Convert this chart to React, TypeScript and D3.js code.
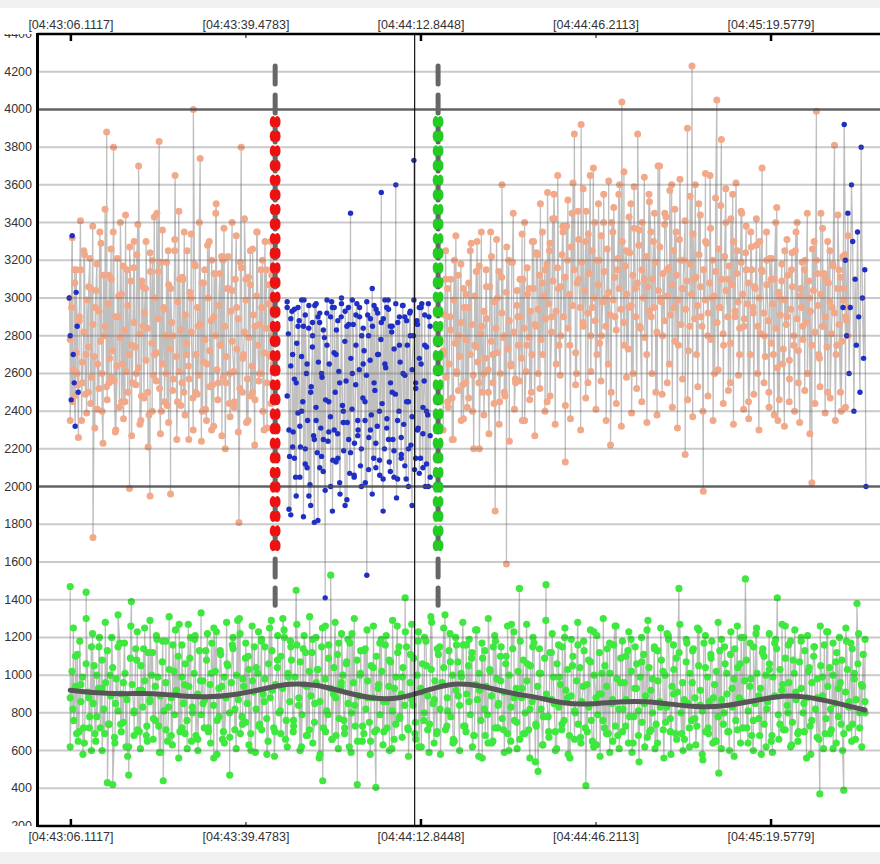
import React from 'react';
import * as d3 from 'd3';

// seconds after 04:43:00
const tickTimes = [6.1117, 39.4783, 72.8448, 106.2113, 139.5779];
const tickLabels = ['[04:43:06.1117]', '[04:43:39.4783]', '[04:44:12.8448]', '[04:44:46.2113]', '[04:45:19.5779]'];
const majorTick = [true, false, true, false, true];
const yTicks = [200, 400, 600, 800, 1000, 1200, 1400, 1600, 1800, 2000, 2200, 2400, 2600, 2800, 3000, 3200, 3400, 3600, 3800, 4000, 4200, 4400];
const yMajor = [2000, 4000];

const salmonLeftSpan = [5.98, 44.67];
const salmonLeft = [
  3000, 2450, 3150, 2600, 2900, 2350, 3250, 2700, 2500, 3050,
  1730, 2950, 2650, 3350, 2400, 2800, 3880, 2550, 3100, 3800,
  2300, 2900, 3400, 2650, 2450, 3150, 1990, 2750, 3300, 2600,
  3700, 2350, 2850, 3050, 2500, 1950, 3200, 2700, 3450, 3830,
  2400, 2950, 2600, 3250, 1960, 2800, 3650, 2450, 3100, 2550,
  3350, 2700, 2250, 3000, 4000, 2500, 2850, 3740, 2400, 3150,
  2650, 3300, 2300, 2900, 3500, 2550, 2750, 3200, 2200, 3050,
  2600, 3400, 2450, 2950, 1810, 3800, 2700, 3100, 2350, 3250,
  2500, 2850, 3350, 2600, 2950, 2300, 3150, 2700, 3300, 2650,
];
const salmonLeftCore = [
  2780, 2950, 2620, 3080, 2710, 2540, 2880, 3150, 2660, 2820,
  2490, 2990, 2740, 3210, 2580, 2860, 2690, 3040, 2410, 2930,
  2770, 2600, 3120, 2850, 2530, 2970, 2680, 3260, 2720, 2560,
  2900, 2640, 3010, 2790, 2450, 3170, 2830, 2610, 2960, 2700,
  3090, 2550, 2870, 2740, 3230, 2630, 2810, 2480, 3060, 2920,
  2670, 2840, 2380, 3140, 2760, 2590, 3000, 2710, 2890, 2520,
  3190, 2650, 2940, 2800, 2430, 3070, 2730, 2870, 2570, 3250,
  2690, 2980, 2610, 2830, 3110, 2500, 2910, 2760, 2640, 3030,
  2820, 2470, 3180, 2700, 2950, 2590, 2860, 3080, 2660, 2780,
  2350, 3000, 2720, 2880, 2540, 3130, 2800, 2620, 2960, 2750,
  3220, 2580, 2850, 2690, 3050, 2440, 2930, 2770, 2610, 3100,
  2730, 2890, 2520, 3160, 2680, 2820, 2990, 2570, 2790, 3070,
  2640, 2910, 2460, 3010, 2750, 2860, 2600, 3200, 2710, 2840,
  2550, 2970, 2690, 3120, 2800,
];
const salmonLeftWide = [
  2350, 3320, 2480, 3150, 2260, 3410, 2550, 3230, 2390, 3060,
  2440, 3380, 2310, 3180, 2520, 3290, 2230, 3470, 2460, 3120,
  2580, 3350, 2290, 3210, 2420, 3020, 2360, 3440, 2500, 3270,
  2270, 3160, 2540, 3390, 2330, 3090, 2470, 3300, 2210, 3240,
  2400, 3430, 2560, 3140, 2280, 3360, 2450, 3190, 2340, 3050,
  2510, 3310, 2250, 3460, 2430, 3100, 2380, 3250, 2570, 3340,
  2300, 3170, 2490, 3400, 2240, 3080, 2410, 3280, 2530, 3200,
  2320, 3450, 2460, 3130, 2270, 3370, 2550, 3220, 2370, 3040,
  2420, 3330, 2290, 3190, 2500, 3420, 2340, 3110, 2480, 3260,
  2220, 3350, 2560, 3150, 2400, 3300, 2310, 3070, 2440, 3230,
];

const salmonRightSpan = [77.07, 154.26];
const salmonRight = [
  2700, 3100, 2450, 2900, 2250, 3200, 2600, 2800, 2350, 3050,
  2550, 2950, 3250, 2400, 2750, 3300, 2200, 2850, 2600, 3150,
  2500, 3350, 2700, 1870, 3000, 2450, 3600, 2800, 1590, 3200,
  2650, 3450, 2550, 2900, 3100, 2350, 3400, 2750, 3050, 2500,
  3300, 2850, 2600, 3500, 2700, 3150, 2450, 3250, 2900, 3550,
  2650, 3050, 2800, 3350, 2130, 3200, 2750, 3450, 3870, 2600,
  3100, 3920, 2850, 3300, 2550, 3650, 2950, 3400, 2700, 3200,
  2800, 3550, 3000, 2650, 2220, 3350, 2900, 3150, 3600, 4040,
  2750, 3250, 2950, 3500, 2600, 3050, 3870, 2850, 3400, 3100,
  2700, 3550, 2900, 3300, 2500, 3700, 3000, 2800, 3450, 3150,
  2650, 3600, 2950, 3350, 2750, 3200, 3050, 2170, 3900, 2850,
  4230, 3100, 2700, 3500, 2900, 1975, 3300, 2800, 3650, 3000,
  2600, 4050, 2950, 3840, 2750, 3400, 3100, 2550, 3550, 2900,
  3250, 2700, 3450, 2850, 3150, 2450, 3350, 2950, 3050, 2600,
  3300, 3690, 2800, 3200, 2500, 3100, 2700, 3400, 2350, 3000,
  2650, 3250, 2900, 2450, 3150, 2750, 3350, 2550, 3050, 2850,
  3200, 2600, 3000, 2020, 3300, 3990, 2700, 3450, 2850, 3100,
  2500, 3250, 2950, 3810, 2750, 3150, 2400, 3050, 2900, 2800,
];
const salmonRightCore = [
  2720, 2910, 2580, 3050, 2650, 2830, 2470, 2990, 2760, 2610,
  3120, 2690, 2870, 2540, 2950, 2780, 2420, 3080, 2700, 2860,
  2590, 3010, 2740, 2660, 3170, 2810, 2500, 2930, 2680, 2890,
  2620, 3060, 2770, 2550, 2980, 2840, 2710, 3140, 2600, 2920,
  2790, 2480, 3030, 2730, 2880, 2640, 3190, 2820, 2570, 2960,
  2750, 2900, 2680, 3100, 2840, 2610, 3020, 2790, 2930, 2700,
  3050, 2860, 3240, 2940, 3120, 2780, 3350, 3010, 2890, 3180,
  2970, 3290, 2820, 3090, 3420, 2930, 3160, 2750, 3060, 3230,
  2900, 3110, 3380, 2840, 3020, 3270, 2960, 3150, 2710, 3080,
  3310, 2950, 3190, 2870, 3040, 3460, 2920, 3130, 2800, 3250,
  3000, 2880, 3200, 3070, 2760, 3330, 2980, 3140, 2850, 3260,
  3030, 2910, 3400, 2990, 3110, 2830, 3210, 3050, 2940, 3300,
  2870, 3170, 3020, 2730, 3240, 2960, 3120, 3370, 2900, 3080,
  3280, 2840, 3150, 3000, 2790, 3220, 3060, 2930, 3350, 3100,
  2950, 3190, 2820, 3040, 3270, 2980, 3130, 2880, 3430, 3010,
  3160, 2910, 3070, 3250, 2770, 3120, 2990, 3310, 2860, 3050,
  3200, 2940, 3090, 2720, 3180, 3020, 3340, 2890, 3110, 2960,
  3230, 3060, 2850, 3150, 2990, 3290, 2920, 3080, 2780, 3200,
  3010, 3140, 2870, 3260, 2950, 3100, 2810, 3220, 3040, 2900,
  3170, 2760, 3070, 3300, 2930, 3130, 2980, 2840, 3190, 3020,
  2890, 3240, 2970, 3080, 2700, 3150, 2920, 3060, 3280, 2850,
  3000, 2810, 3140, 2920, 2690, 3070, 2880, 3210, 2760, 2970,
  3100, 2840, 2630, 3030, 2910, 3180, 2730, 2990, 2860, 3120,
  2670, 2940, 3060, 2800, 3250, 2890, 2720, 3010, 2950, 2780,
  3150, 2870, 2600, 3090, 2930, 2750, 3040, 2820, 3200, 2960,
  2680, 3020, 2850, 3130, 2900, 2740, 3080, 2980, 2810, 3170,
  2920, 2700, 3050, 2860, 3110, 2770, 2990, 3230, 2880, 2950,
];
const salmonRightWide = [
  2300, 3250, 2420, 3100, 2250, 3330, 2510, 3180, 2360, 3020,
  2470, 3290, 2200, 3140, 2550, 3350, 2380, 3060, 2280, 3220,
  2440, 3310, 2330, 3110, 2500, 3270, 2240, 3190, 2410, 3040,
  2560, 3340, 2350, 3160, 2460, 3300, 2270, 3230, 2520, 3080,
  2400, 3560, 2480, 3420, 2330, 3650, 2590, 3380, 2430, 3520,
  2360, 3610, 2540, 3460, 2300, 3580, 2470, 3340, 2610, 3690,
  2410, 3500, 2560, 3400, 2350, 3620, 2500, 3480, 2440, 3550,
  2320, 3670, 2580, 3430, 2390, 3590, 2520, 3360, 2450, 3640,
  2340, 3510, 2600, 3450, 2380, 3700, 2490, 3390, 2550, 3570,
  2420, 3470, 2310, 3630, 2570, 3410, 2460, 3540, 2370, 3600,
  2530, 3440, 2400, 3660, 2480, 3370, 2350, 3530, 2620, 3490,
  2440, 3580, 2510, 3420, 2330, 3610, 2590, 3460, 2410, 3380,
  2360, 3270, 2490, 3420, 2300, 3150, 2550, 3350, 2420, 3210,
  2380, 3480, 2460, 3090, 2320, 3310, 2570, 3240, 2400, 3400,
  2340, 3190, 2510, 3450, 2280, 3260, 2440, 3130, 2530, 3370,
  2390, 3300, 2470, 3180, 2350, 3440, 2500, 3220, 2420, 3330,
];

const blueStartSpan = [5.79, 7.5];
const blueStart = [3000, 2800, 2460, 3330, 2700, 2550, 2320, 3030, 2850, 2500];

const blueMidSpan = [47.34, 74.6];
const blueMid = [
  2950, 2300, 1850, 2700, 2150, 2550, 2950, 2050, 2400, 2850,
  2200, 2650, 1950, 2500, 2800, 1810, 2350, 2900, 2100, 2600,
  2250, 1410, 2750, 2450, 2000, 2950, 2300, 2700, 2150, 2550,
  3000, 2400, 1900, 2850, 2250, 3450, 2600, 2050, 2750, 2350,
  2900, 2200, 2650, 2450, 1530, 2800, 2300, 3050, 2550, 2100,
  2700, 2400, 3560, 1870, 2650, 2950, 2250, 2850, 2500, 2050,
  3600, 2350, 2750, 2150, 2600, 2900, 2450, 2200, 2800, 1900,
  3730, 2550, 2300, 2950, 2650, 2100, 2750, 2400, 2000, 2850,
];
const blueMidCore = [
  2480, 2810, 2160, 2640, 2930, 2290, 2570, 2050, 2760, 2390,
  2880, 2210, 2690, 2450, 2990, 2120, 2600, 2350, 2840, 2010,
  2530, 2740, 2270, 2960, 2420, 2180, 2660, 2870, 2310, 2580,
  2080, 2790, 2460, 2920, 2240, 2650, 2370, 2980, 2140, 2710,
  2500, 2830, 2280, 2610, 1960, 2900, 2430, 2190, 2770, 2560,
  2340, 2950, 2070, 2680, 2410, 2860, 2230, 2540, 2970, 2300,
  2620, 2110, 2800, 2470, 2720, 2020, 2590, 2910, 2260, 2670,
  2380, 2850, 2150, 2510, 2940, 2320, 2700, 2060, 2780, 2440,
  2890, 2200, 2630, 2360, 2990, 2130, 2550, 2820, 2250, 2730,
  2490, 1940, 2870, 2400, 2660, 2170, 2960, 2330, 2590, 2040,
  2750, 2450, 2920, 2220, 2620, 2800, 2090, 2520, 2880, 2310,
  2680, 2150, 2970, 2420, 2560, 2000, 2740, 2380, 2900, 2270,
];
const blueMidWide = [
  2980, 1880, 2890, 2210, 2940, 1950, 2850, 2320, 2990, 1840,
  2910, 2100, 2960, 1900, 2870, 2250, 2970, 1820, 2920, 2160,
  2830, 1980, 2990, 2290, 2900, 1870, 2950, 2130, 2880, 2020,
  2970, 2340, 2930, 1930, 2860, 2180, 2990, 2060, 2910, 2270,
  2950, 2000, 2840, 2350, 2980, 2090, 2890, 1960, 2960, 2230,
  2920, 2140, 2870, 2040, 2990, 2310, 2940, 2080, 2850, 2190,
  2970, 2040, 2900, 2260, 2960, 2110, 2880, 2000, 2930, 2370,
  2990, 2150, 2860, 2070, 2950, 2280, 2910, 2120, 2970, 2050,
];

const blueEndSpan = [153.3, 157.68];
const blueEnd = [
  2950, 3920, 3200, 2800, 3450, 2600, 2950, 3600, 3300, 2400,
  3100, 2750, 3350, 2900, 2500, 3800, 3000, 2680, 3150, 2000,
];

const greenSpan = [5.98, 157.49];
const green = [
  1470, 820, 1100, 650, 950, 720, 1440, 880, 600, 1050,
  780, 1200, 930, 690, 430, 1000, 420, 850, 1150, 740,
  960, 620, 470, 1390, 810, 1080, 700, 920, 1250, 650,
  870, 1120, 760, 990, 590, 440, 1180, 830, 680, 1020,
  900, 1270, 720, 950, 610, 1090, 800, 1210, 660, 970,
  850, 1130, 700, 1010, 560, 1230, 780, 940, 640, 1060,
  470, 1160, 820, 1290, 690, 980, 750, 1100, 600, 910,
  1040, 730, 1190, 860, 580, 1250, 920, 700, 1080, 810,
  1300, 660, 990, 1150, 760, 1450, 880, 620, 1210, 940,
  710, 1120, 850, 1030, 580, 440, 1260, 790, 1530, 900,
  680, 1170, 960, 760, 1070, 620, 1220, 840, 420, 1000,
  730, 1140, 880, 650, 1040, 405, 950, 1190, 700, 860,
  1080, 610, 930, 1260, 780, 990, 1410, 720, 1110, 840,
  660, 1230, 910, 760, 1050, 590, 1280, 870, 700, 1150,
  950, 1320, 810, 1070, 640, 1200, 890, 1010, 730, 1160,
  860, 1090, 680, 1240, 920, 560, 1130, 790, 1020, 650,
  1180, 840, 970, 710, 1100, 600, 1270, 880, 750, 1460,
  930, 690, 1060, 820, 1150, 540, 490, 1010, 780, 1480,
  700, 1120, 850, 610, 990, 740, 1200, 880, 560, 1050,
  800, 1160, 670, 940, 414, 1080, 760, 1230, 630, 900,
  1010, 720, 1140, 590, 870, 1260, 680, 960, 820, 1100,
  640, 1190, 780, 930, 540, 1070, 850, 1240, 700, 980,
  610, 1130, 830, 1020, 750, 1210, 580, 900, 1090, 1460,
  690, 870, 1170, 620, 960, 770, 1250, 840, 550, 1040,
  720, 1110, 880, 650, 480, 1190, 800, 1010, 600, 930,
  1140, 710, 1060, 860, 1510, 640, 980, 760, 1220, 890,
  580, 1100, 820, 1030, 680, 1170, 1410, 740, 950, 1260,
  800, 620, 1080, 910, 700, 1200, 850, 560, 1040, 760,
  1150, 880, 370, 990, 690, 1230, 820, 610, 1070, 930,
  740, 390, 1180, 860, 650, 1010, 1380, 720, 940, 800,
];
const greenCore = [
  880, 1020, 760, 940, 1110, 700, 860, 990, 640, 1060,
  910, 780, 1150, 850, 690, 1000, 930, 720, 1080, 820,
  960, 1130, 740, 890, 1040, 670, 980, 810, 1170, 900,
  750, 1010, 870, 620, 1090, 950, 800, 1140, 710, 920,
  1050, 830, 970, 680, 1120, 860, 1000, 770, 940, 1190,
  730, 890, 1070, 810, 960, 650, 1030, 880, 1160, 790,
  920, 1100, 700, 990, 850, 1060, 760, 940, 1200, 830,
  1010, 680, 900, 1130, 790, 970, 870, 1080, 720, 950,
  1170, 840, 1020, 760, 930, 1110, 660, 990, 880, 1050,
  800, 960, 1140, 710, 1000, 870, 1220, 780, 940, 1090,
  850, 1030, 690, 970, 1150, 820, 1010, 740, 1180, 900,
  980, 770, 1060, 880, 1130, 720, 950, 1040, 800, 1100,
  930, 1200, 760, 1010, 860, 1080, 700, 990, 1160, 840,
  1070, 790, 950, 1120, 680, 1020, 890, 1190, 750, 960,
  1030, 860, 1150, 720, 980, 810, 1090, 930, 660, 1040,
  880, 1110, 770, 940, 1000, 690, 1060, 850, 1170, 800,
  960, 730, 1080, 890, 1010, 650, 1130, 820, 970, 750,
  1050, 880, 700, 1100, 930, 790, 1020, 860, 1160, 720,
  940, 1070, 810, 660, 990, 1120, 770, 900, 1040, 840,
  1150, 710, 960, 870, 1090, 750, 1000, 620, 930, 1060,
  800, 1180, 890, 740, 1030, 850, 970, 690, 1110, 820,
  960, 1040, 710, 880, 1130, 780, 1000, 650, 920, 1070,
  840, 990, 1160, 730, 900, 1050, 790, 1120, 680, 950,
  870, 1010, 760, 1090, 820, 940, 640, 1030, 890, 1150,
  720, 980, 850, 1100, 770, 910, 1060, 690, 1000, 830,
  1140, 760, 930, 1020, 660, 880, 1080, 800, 970, 710,
  1050, 860, 1170, 740, 940, 1010, 820, 630, 1090, 900,
  780, 1120, 870, 990, 700, 1060, 830, 950, 1150, 760,
  920, 1030, 680, 890, 1100, 810, 970, 740, 1040, 860,
  1180, 720, 950, 830, 1070, 650, 1000, 880, 790, 1120,
  900, 760, 1050, 940, 690, 1010, 850, 1160, 730, 980,
  820, 1090, 700, 960, 870, 1130, 780, 1020, 640, 930,
  1060, 810, 990, 750, 1110, 890, 670, 1040, 920, 800,
  1150, 740, 970, 860, 1080, 710, 1000, 830, 1190, 770,
  940, 1030, 690, 910, 1120, 800, 960, 660, 1070, 850,
  1010, 760, 1140, 880, 730, 1050, 920, 810, 1170, 700,
  990, 860, 1090, 640, 950, 1020, 780, 1130, 870, 740,
  1060, 900, 700, 1110, 830, 980, 760, 1040, 880, 1200,
  720, 970, 1080, 810, 940, 680, 1150, 850, 1010, 770,
  930, 1120, 740, 1000, 860, 1060, 650, 990, 890, 1140,
  790, 1030, 920, 710, 1090, 840, 960, 1180, 750, 1010,
  870, 690, 1070, 930, 800, 1130, 880, 1020, 730, 960,
  1100, 820, 980, 660, 1050, 890, 1160, 770, 940, 1040,
  710, 1000, 850, 1120, 780, 960, 1080, 690, 910, 1030,
  830, 1170, 740, 980, 870, 1060, 800, 950, 1110, 860,
];
const greenWide = [
  620, 1250, 690, 1180, 580, 1300, 720, 1220, 650, 1150,
  600, 1280, 740, 1200, 640, 1320, 700, 1170, 570, 1260,
  680, 1230, 610, 1140, 730, 1290, 660, 1210, 590, 1180,
  710, 1310, 630, 1240, 560, 1160, 690, 1270, 650, 1190,
  600, 1330, 720, 1220, 640, 1250, 580, 1130, 700, 1280,
  670, 1200, 610, 1300, 740, 1170, 630, 1260, 590, 1230,
  710, 1150, 650, 1290, 570, 1210, 690, 1240, 620, 1180,
  730, 1270, 600, 1140, 680, 1310, 640, 1200, 560, 1250,
  700, 1160, 660, 1280, 610, 1220, 720, 1190, 590, 1300,
  650, 1130, 690, 1240, 580, 1260, 710, 1170, 630, 1210,
  600, 1290, 740, 1150, 670, 1230, 570, 1270, 690, 1180,
  620, 1200, 710, 1310, 640, 1140, 580, 1250, 730, 1220,
  660, 1160, 600, 1280, 700, 1190, 620, 1240, 570, 1170,
  680, 1300, 640, 1210, 720, 1150, 590, 1260, 650, 1230,
  610, 1180, 690, 1270, 560, 1200, 730, 1140, 630, 1290,
  670, 1220, 600, 1160, 710, 1250, 580, 1190, 660, 1280,
  640, 1130, 700, 1240, 620, 1210, 570, 1300, 690, 1170,
  650, 1260, 610, 1180, 730, 1230, 590, 1150, 680, 1200,
  620, 1290, 710, 1140, 640, 1250, 560, 1220, 700, 1160,
  660, 1270, 600, 1190, 720, 1130, 630, 1240, 580, 1210,
  690, 1180, 650, 1280, 610, 1150, 700, 1230, 570, 1260,
  640, 1200, 720, 1170, 600, 1250, 680, 1140, 620, 1220,
  590, 1190, 660, 1270, 710, 1160, 630, 1240, 650, 1180,
  700, 1210, 580, 1150, 670, 1260, 610, 1230, 690, 1170,
  640, 1200, 600, 1250, 720, 1140, 660, 1220, 620, 1190,
];

// moving average of the green series
const smoothSpan = [5.98, 157.49];
const smooth = [
  920, 905, 900, 905, 890, 882, 895, 925, 958, 950,
  910, 875, 872, 920, 962, 945, 905, 885, 848, 845,
  860, 862, 845, 828, 838, 865, 895, 885, 850, 815,
];

const markerTimes = [45.05, 76.11];
const markerColors = ['#ee1111', '#22cc22'];
const markerLevels = [
  3935, 3858, 3780, 3702, 3625, 3547, 3470, 3392, 3315, 3237,
  3160, 3082, 3005, 2927, 2850, 2772, 2695, 2617, 2540, 2462,
  2385, 2307, 2230, 2152, 2075, 1997, 1920, 1842, 1765, 1687,
];
const markerRange = [4230, 1370];
const cursorTime = 71.64;

type Pt = { t: number; v: number };
const spread = (values: number[], span: number[]): Pt[] =>
  values.map((v, i) => ({ t: span[0] + (i * (span[1] - span[0])) / (values.length - 1), v }));
const merge = (span: number[], ...lists: number[][]): Pt[] =>
  lists.flatMap((l) => spread(l, span)).sort((p, q) => p.t - q.t);

const W = 880;
const H = 864;
const left = 37.5;
const top = 34;
const bottom = 826;

const x = d3.scaleLinear().domain([-0.254, 160.35]).range([left, W]);
const y = d3.scaleLinear().domain([200, 4400]).range([bottom, top]);
const line = d3
  .line<Pt>()
  .x((d) => x(d.t))
  .y((d) => y(d.v));
const smoothLine = d3
  .line<Pt>()
  .x((d) => x(d.t))
  .y((d) => y(d.v))
  .curve(d3.curveBasis);

const salmonFill = '#f2a98a';
const blueFill = '#1f2fc4';
const series = [
  { pts: merge(salmonLeftSpan, salmonLeft, salmonLeftCore, salmonLeftWide), fill: salmonFill, r: 3.5 },
  { pts: merge(salmonRightSpan, salmonRight, salmonRightCore, salmonRightWide), fill: salmonFill, r: 3.5 },
  { pts: merge(greenSpan, green, greenCore, greenWide), fill: '#3fe83f', r: 3.6 },
  { pts: spread(blueStart, blueStartSpan), fill: blueFill, r: 2.7 },
  { pts: merge(blueMidSpan, blueMid, blueMidCore, blueMidWide), fill: blueFill, r: 2.7 },
  { pts: spread(blueEnd, blueEndSpan), fill: blueFill, r: 2.7 },
];

const font = '"Liberation Sans", Arial, sans-serif';

const App: React.FC = () => {
  return (
    <div style={{ position: 'fixed', left: 0, top: 0, width: W, height: H, background: '#f0f0f0' }}>
      <svg width={W} height={H} style={{ display: 'block' }}>
        <defs>
          <clipPath id="plot">
            <rect x={left} y={top} width={W - left} height={bottom - top} />
          </clipPath>
          <clipPath id="ylab">
            <rect x={0} y={top} width={left} height={bottom - top} />
          </clipPath>
        </defs>
        <rect x={0} y={8} width={W} height={844} fill="#ffffff" />

        <g clipPath="url(#plot)">
          {series.map((s, i) => (
            <path key={'l' + i} d={line(s.pts) || ''} fill="none" stroke="#bfbfbf" strokeWidth={1.3} />
          ))}
          {series.map((s, i) => (
            <g key={'p' + i}>
              {s.pts.map((p, j) => (
                <circle key={j} cx={x(p.t)} cy={y(p.v)} r={s.r} fill={s.fill} />
              ))}
            </g>
          ))}

          {yTicks.map((v) =>
            yMajor.includes(v) ? (
              <line key={v} x1={left} x2={W} y1={y(v)} y2={y(v)} stroke="rgba(70,70,70,0.85)" strokeWidth={2.5} />
            ) : (
              <line key={v} x1={left} x2={W} y1={y(v)} y2={y(v)} stroke="rgba(90,90,90,0.32)" strokeWidth={2} />
            )
          )}

          <path
            d={smoothLine(spread(smooth, smoothSpan)) || ''}
            fill="none"
            stroke="#565656"
            strokeWidth={5}
            strokeLinecap="round"
          />

          {markerTimes.map((t, i) => (
            <g key={'m' + i}>
              <line
                x1={x(t)}
                x2={x(t)}
                y1={y(markerRange[0])}
                y2={y(markerRange[1])}
                stroke="#666666"
                strokeWidth={5}
                strokeLinecap="round"
                strokeDasharray="18 11"
              />
              {markerLevels.map((v, j) => (
                <g key={j} fill={markerColors[i]}>
                  <ellipse cx={x(t) - 2.2} cy={y(v)} rx={3.2} ry={5.6} />
                  <ellipse cx={x(t) + 2.2} cy={y(v)} rx={3.2} ry={5.6} />
                </g>
              ))}
            </g>
          ))}

          <line x1={x(cursorTime)} x2={x(cursorTime)} y1={top} y2={bottom} stroke="#111" strokeWidth={1.2} />
        </g>

        <g clipPath="url(#ylab)" fontFamily={font} fontSize={12.5} fill="#333">
          {yTicks.map((v) => (
            <text key={v} x={32} y={y(v)} textAnchor="end" dominantBaseline="central">
              {v}
            </text>
          ))}
        </g>

        <line x1={left} x2={left} y1={top - 1} y2={bottom + 1} stroke="#000" strokeWidth={3} />
        <line x1={left} x2={W} y1={top} y2={top} stroke="#000" strokeWidth={2.5} />
        <line x1={left} x2={W} y1={bottom} y2={bottom} stroke="#000" strokeWidth={2.5} />

        {tickTimes.map((t, i) => (
          <g key={t}>
            <line
              x1={x(t)}
              x2={x(t)}
              y1={top}
              y2={top + (majorTick[i] ? 7 : 4)}
              stroke="#000"
              strokeWidth={majorTick[i] ? 2.5 : 1}
            />
            <line
              x1={x(t)}
              x2={x(t)}
              y1={bottom}
              y2={bottom - (majorTick[i] ? 7 : 4)}
              stroke="#000"
              strokeWidth={majorTick[i] ? 2.5 : 1}
            />
            <text x={x(t)} y={29} textAnchor="middle" fontFamily={font} fontSize={12.5} fill="#333">
              {tickLabels[i]}
            </text>
            <text x={x(t)} y={841} textAnchor="middle" fontFamily={font} fontSize={12.5} fill="#333">
              {tickLabels[i]}
            </text>
          </g>
        ))}
      </svg>
    </div>
  );
};

export default App;
